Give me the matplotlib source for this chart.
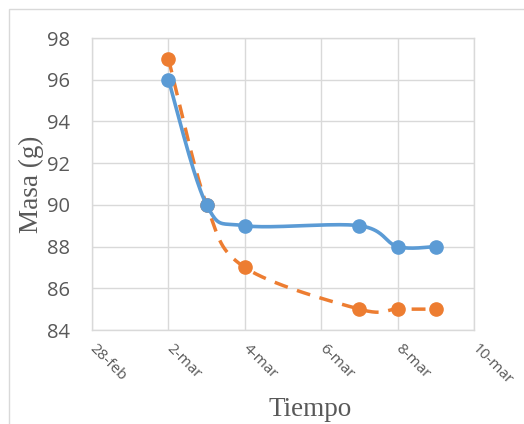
import numpy as np
import matplotlib
matplotlib.use("Agg")
import matplotlib.pyplot as plt
import matplotlib.dates as mdates
from matplotlib.patches import Rectangle
import datetime as dt

# ---- data ----
dates = ["2023-03-02", "2023-03-03", "2023-03-04", "2023-03-07", "2023-03-08", "2023-03-09"]
serie_azul = [96, 90, 89, 89, 88, 88]
serie_naranja = [97, 90, 87, 85, 85, 85]
tick_dates = ["2023-02-28", "2023-03-02", "2023-03-04", "2023-03-06", "2023-03-08", "2023-03-10"]
tick_labels = ["28-feb", "2-mar", "4-mar", "6-mar", "8-mar", "10-mar"]
y_ticks = [84, 86, 88, 90, 92, 94, 96, 98]

BLUE = "#5B9BD5"
ORANGE = "#ED7D31"
GRID = "#D9D9D9"
TXT = "#595959"

W, H = 524, 424
fig = plt.figure(figsize=(W / 100, H / 100), dpi=100)
fig.patch.set_facecolor("white")

# outer chart border (left and top visible)
fig.add_artist(Rectangle((9 / W, -0.1), 1.2, 1.1 - 9 / H, transform=fig.transFigure,
                         fill=False, edgecolor=GRID, linewidth=1.0))

ax = fig.add_axes([92 / W, (H - 330) / H, 382 / W, 292 / H])

xd = mdates.date2num([dt.datetime.fromisoformat(d) for d in dates])
xt = mdates.date2num([dt.datetime.fromisoformat(d) for d in tick_dates])
xmin, xmax = xt[0], xt[-1]
ymin, ymax = 84, 98
ax.set_xlim(xmin, xmax)
ax.set_ylim(ymin, ymax)


def smooth(x, y, n=40):
    # Catmull-Rom / Bezier smoothing in (approx.) pixel space, like Excel smoothed lines
    sx = 382 / (xmax - xmin)
    sy = 292 / (ymax - ymin)
    P = np.column_stack([np.asarray(x) * sx, np.asarray(y, float) * sy])
    pts = []
    m = len(P)
    for i in range(m - 1):
        p0 = P[i - 1] if i > 0 else P[i]
        p1 = P[i]
        p2 = P[i + 1]
        p3 = P[i + 2] if i + 2 < m else P[i + 1]
        c1 = p1 + (p2 - p0) / 6
        c2 = p2 - (p3 - p1) / 6
        t = np.linspace(0, 1, n)[:, None]
        seg = ((1 - t) ** 3) * p1 + 3 * ((1 - t) ** 2) * t * c1 + 3 * (1 - t) * t ** 2 * c2 + t ** 3 * p2
        if i > 0:
            seg = seg[1:]
        pts.append(seg)
    pts = np.vstack(pts)
    return pts[:, 0] / sx, pts[:, 1] / sy


# orange (dashed)
sxo, syo = smooth(xd, serie_naranja)
ax.plot(sxo, syo, color=ORANGE, lw=2.5, dashes=(4, 2.8), solid_capstyle="butt", zorder=3)
ax.plot(xd, serie_naranja, "o", color=ORANGE, ms=9.5, zorder=4)

# blue (solid)
sxb, syb = smooth(xd, serie_azul)
ax.plot(sxb, syb, color=BLUE, lw=2.6, zorder=5, solid_capstyle="round")
ax.plot(xd, serie_azul, "o", color=BLUE, ms=9.5, zorder=6)

ax.set_xticks(xt)
ax.set_xticklabels(tick_labels)
ax.set_yticks(y_ticks)
ax.grid(True, color=GRID, lw=1.0, zorder=0)
ax.set_axisbelow(True)
for s in ax.spines.values():
    s.set_color(GRID)
    s.set_linewidth(1.0)
ax.tick_params(length=0)
ax.tick_params(axis="y", labelsize=14.5, labelcolor=TXT, pad=16)
for lbl in ax.get_yticklabels():
    lbl.set_fontfamily("Open Sans")
ax.tick_params(axis="x", labelsize=11, labelcolor=TXT, pad=12)
for lbl in ax.get_xticklabels():
    lbl.set_fontfamily("Open Sans")
    lbl.set_rotation(-45)
    lbl.set_ha("left")
    lbl.set_va("center")
    lbl.set_rotation_mode("anchor")

ax.set_ylabel("Masa (g)", fontsize=19.5, fontfamily="Liberation Serif", color=TXT)
ax.yaxis.set_label_coords((31 - 92) / 382, 0.5)
ax.yaxis.label.set_va("center")
ax.set_xlabel("Tiempo", fontsize=19.5, fontfamily="Liberation Serif", color=TXT)
ax.xaxis.set_label_coords((310 - 92) / 382, (330 - 410) / 292)
ax.xaxis.label.set_va("center")

fig.savefig("out.png", dpi=100)
